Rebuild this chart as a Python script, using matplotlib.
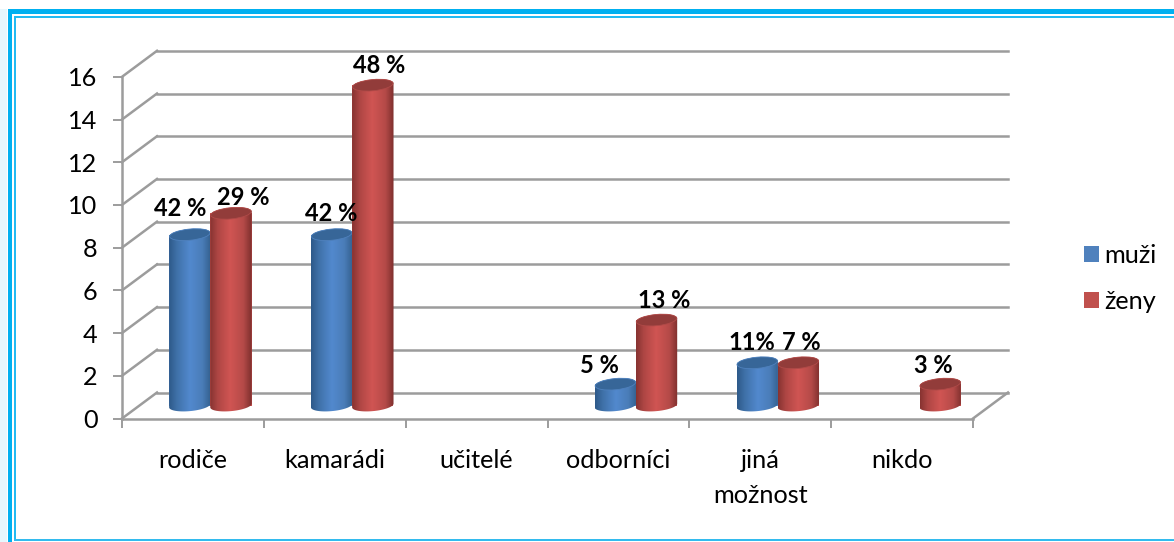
import numpy as np
import matplotlib
matplotlib.use("Agg")
import matplotlib.pyplot as plt
from matplotlib.patches import Ellipse, Patch, Rectangle
from matplotlib.path import Path
from matplotlib.transforms import Affine2D, IdentityTransform
from matplotlib.colors import LinearSegmentedColormap

categories = ["rodiče", "kamarádi", "učitelé", "odborníci", "jiná\nmožnost", "nikdo"]
muzi = [8, 8, 0, 1, 2, 0]
zeny = [9, 15, 0, 4, 2, 1]
muzi_labels = ["42 %", "42 %", "", "5 %", "11%", ""]
zeny_labels = ["29 %", "48 %", "", "13 %", "7 %", "3 %"]
y_ticks = [0, 2, 4, 6, 8, 10, 12, 14, 16]
series_names = ["muži", "ženy"]

W, H = 1174, 542
plt.rcParams["font.family"] = ["Lato", "DejaVu Sans"]
fig = plt.figure(figsize=(W / 100, H / 100), dpi=100)
fig.patch.set_facecolor("white")

# frame
CY = "#00B0F0"
def frame(x0, y0, x1, y1, c):
    fig.add_artist(Rectangle((x0 / W, 1 - y1 / H), (x1 - x0) / W, (y1 - y0) / H,
                             transform=fig.transFigure, fc=c, ec="none"))
frame(0, 9, 7, H, "#E6F7FD")
frame(7.5, 9.5, 1174, 14, CY)
frame(7.5, 9.5, 12, H, CY)
frame(14, 16, 1174, 17.5, "#22BBF2")
frame(14, 16, 15.5, 540, "#22BBF2")
frame(14, 539, 1174, 541, "#33BBEE")

ax = fig.add_axes([122 / W, 1 - 418.5 / H, (973 - 122) / W, (418.5 - 76.8) / H])
ax.set_xlim(0, 6)
ax.set_ylim(0, 16)
ax.patch.set_alpha(0)

GRID = "#9C9C9C"
LW = 1.8
depth_full = ax.transData + Affine2D().translate(35, 26)
depth_mid = ax.transData + Affine2D().translate(17.5, 13)

for v in y_ticks:
    ax.plot([0, 6], [v, v], color=GRID, lw=LW, transform=depth_full, clip_on=False, zorder=1)
    p0 = ax.transData.transform((0, v))
    ax.plot([p0[0], p0[0] + 35], [p0[1], p0[1] + 26], color=GRID, lw=LW,
            transform=IdentityTransform(), clip_on=False, zorder=1)
p0 = ax.transData.transform((6, 0))
ax.plot([p0[0], p0[0] + 35], [p0[1], p0[1] + 26], color=GRID, lw=LW,
        transform=IdentityTransform(), clip_on=False, zorder=1)

for s in ("top", "right"):
    ax.spines[s].set_visible(False)
for s in ("left", "bottom"):
    ax.spines[s].set_color(GRID)
    ax.spines[s].set_linewidth(LW)
    ax.spines[s].set_zorder(1.5)

FS = 18.2
ax.set_yticks(y_ticks)
ax.set_xticks(np.arange(0, 7))
ax.set_xticklabels([])
ax.set_xticks(np.arange(6) + 0.5, labels=categories, minor=True, fontsize=FS, linespacing=1.62)
ax.tick_params(axis="x", which="minor", length=0, pad=22)
ax.tick_params(axis="x", which="major", length=6.5, width=1.4, color=GRID)
ax.tick_params(axis="y", length=6.5, width=1.4, color=GRID, pad=11, labelsize=FS)

blue_cm = LinearSegmentedColormap.from_list("b", [(0, "#2E5A8A"), (0.18, "#3F71A8"), (0.5, "#5289CE"),
                                                 (0.8, "#4A7DB8"), (1, "#34608F")])
red_cm = LinearSegmentedColormap.from_list("r", [(0, "#873331"), (0.18, "#AE4644"), (0.48, "#D05553"),
                                                (0.8, "#B54A48"), (1, "#7F302E")])
grad = np.linspace(0, 1, 64).reshape(1, -1)

BW = 0.29
A, B, TH = 20.8, 5.6, np.deg2rad(5.5)

def ell(c, t):
    return np.column_stack([c[0] + A * np.cos(t) * np.cos(TH) - B * np.sin(t) * np.sin(TH),
                            c[1] + A * np.cos(t) * np.sin(TH) + B * np.sin(t) * np.cos(TH)])

def cylinder(x, v, cmap, top_col, rim, z):
    bar = ax.bar(x, v, BW, color=cmap(0.5), transform=depth_mid, zorder=z, clip_on=False)[0]
    base = depth_mid.transform((x, 0))
    top = depth_mid.transform((x, v))
    pts = np.vstack([ell(base, np.linspace(np.pi, 2 * np.pi, 40)), ell(top, np.linspace(0, np.pi, 40))])
    path = Path(np.vstack([pts, pts[0]]), closed=True)
    bar.set_clip_path(path, IdentityTransform())
    im = ax.imshow(grad, cmap=cmap, extent=(x - BW / 2, x + BW / 2, -0.5, v + 0.5), aspect="auto",
                   transform=depth_mid, zorder=z + 0.1, interpolation="bilinear")
    im.set_clip_path(path, IdentityTransform())
    ax.add_patch(Ellipse(top, 2 * A - 1, 2 * B, angle=np.rad2deg(TH), fc=top_col, ec=rim, lw=0.6,
                         transform=IdentityTransform(), zorder=z + 0.2, clip_on=False))
    return top

# pixel offsets of each data label from the top of its column
muzi_off = [(-10, 26), (0, 21), None, (-16, 19), (-5, 20), None]
zeny_off = [(12, 16), (6, 20), None, (8, 20), (3, 20), (-7, 19)]

for i in range(len(categories)):
    c = i + 0.5
    for x, v, lab, off, cm, tc, rim, z in (
        (c - BW / 2, muzi[i], muzi_labels[i], muzi_off[i], blue_cm, "#376698", "#4F81BD", 3 + i),
        (c + BW / 2, zeny[i], zeny_labels[i], zeny_off[i], red_cm, "#923C3A", "#B04A48", 3.5 + i),
    ):
        if v == 0:
            continue
        cylinder(x, v, cm, tc, rim, z)
        ax.annotate(lab, (x, v), xycoords=depth_mid, xytext=(off[0] * 0.72, off[1] * 0.72),
                    textcoords="offset points", ha="center", va="center", fontsize=17,
                    fontweight="bold", color="black", zorder=20, annotation_clip=False)

ax.set_xlim(0, 6)
ax.set_ylim(0, 16)

handles = [Patch(fc="#4F81BD", ec="none"), Patch(fc="#C0504D", ec="none")]
fig.legend(handles, series_names, loc="upper left", bbox_to_anchor=(1076 / W, 1 - 236 / H),
           frameon=False, fontsize=FS, handlelength=0.6, handleheight=0.6,
           handletextpad=0.2, labelspacing=0.94, borderpad=0.3, borderaxespad=0)

fig.savefig("out.png", dpi=100)
